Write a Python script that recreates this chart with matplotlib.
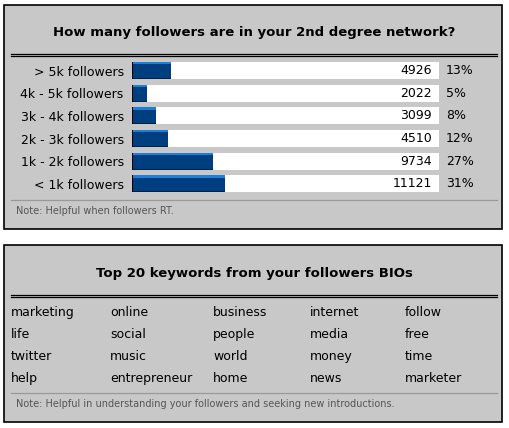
import numpy as np
import matplotlib.pyplot as plt
from matplotlib.patches import Rectangle

labels = ["> 5k followers", "4k - 5k followers", "3k - 4k followers",
          "2k - 3k followers", "1k - 2k followers", "< 1k followers"]
counts = [4926, 2022, 3099, 4510, 9734, 11121]
pct = [13, 5, 8, 12, 27, 31]

keywords = [["marketing", "online", "business", "internet", "follow"],
            ["life", "social", "people", "media", "free"],
            ["twitter", "music", "world", "money", "time"],
            ["help", "entrepreneur", "home", "news", "marketer"]]

title1 = "How many followers are in your 2nd degree network?"
title2 = "Top 20 keywords from your followers BIOs"
note1 = "Note: Helpful when followers RT."
note2 = "Note: Helpful in understanding your followers and seeking new introductions."

W, H = 509, 428
fig = plt.figure(figsize=(W / 100, H / 100), dpi=100)
fig.patch.set_facecolor("white")

# background layer in pixel coordinates
bg = fig.add_axes([0, 0, 1, 1])
bg.set_xlim(0, W)
bg.set_ylim(H, 0)
bg.axis("off")

gray = "#c8c8c8"
for top, bot in [(5, 229), (245, 422)]:
    bg.add_patch(Rectangle((4.5, top), 498, bot - top, facecolor=gray,
                           edgecolor="black", lw=1.2))

def double_line(y):
    bg.plot([11, 497], [y, y], color="black", lw=0.9)
    bg.plot([11, 497], [y + 2.5, y + 2.5], color="black", lw=0.9)

bg.text(254, 32, title1, ha="center", va="center", fontsize=9.5, fontweight="bold")
double_line(53.5)
bg.plot([11, 497], [199.5, 199.5], color="#999999", lw=0.9)
bg.text(16, 211, note1, ha="left", va="center", fontsize=7, color="#555555")

bg.text(254, 273, title2, ha="center", va="center", fontsize=9.5, fontweight="bold")
double_line(294.5)
col_x = [11, 110, 213, 310, 405]
for r, row in enumerate(keywords):
    for c, word in enumerate(row):
        bg.text(col_x[c], 316 + r * 22, word, ha="left", va="baseline", fontsize=9)
bg.plot([11, 497], [392.5, 392.5], color="#999999", lw=0.9)
bg.text(16, 404, note2, ha="left", va="center", fontsize=7, color="#555555")

# bar chart axes (bars scaled by percentage, 3 px per percent)
full = 100 * 307 / 300
y = np.arange(len(labels))
h = 0.75
ax = fig.add_axes([132 / W, 1 - 192.5 / H, (439 - 132) / W, (192.5 - 62) / H])
ax.set_xlim(0, full)
ax.set_ylim(len(labels) - 1 + 0.375, -0.375)
ax.patch.set_alpha(0)
for s in ax.spines.values():
    s.set_visible(False)
ax.set_xticks([])
ax.barh(y, [full] * len(y), height=h, color="white", left=0)
ax.barh(y, pct, height=h, color="#003f7f")
ax.barh(y - h / 2 + 0.05, pct, height=0.1, color="#1e7fd8")
ax.barh(y + h / 2 - 0.025, pct, height=0.05, color="#00204a")
ax.barh(y, [0.35] * len(y), height=h, color="#000000")
ax.set_yticks(y)
ax.set_yticklabels(labels, fontsize=9)
ax.tick_params(axis="y", length=0, pad=6)
for i in range(len(y)):
    ax.annotate(str(counts[i]), (full, y[i]), xytext=(-7, 0), textcoords="offset pixels",
                ha="right", va="center", fontsize=9)
    ax.annotate(f"{pct[i]}%", (full, y[i]), xytext=(7, 0), textcoords="offset pixels",
                ha="left", va="center", fontsize=9, annotation_clip=False)

fig.savefig("out.png", dpi=100)
